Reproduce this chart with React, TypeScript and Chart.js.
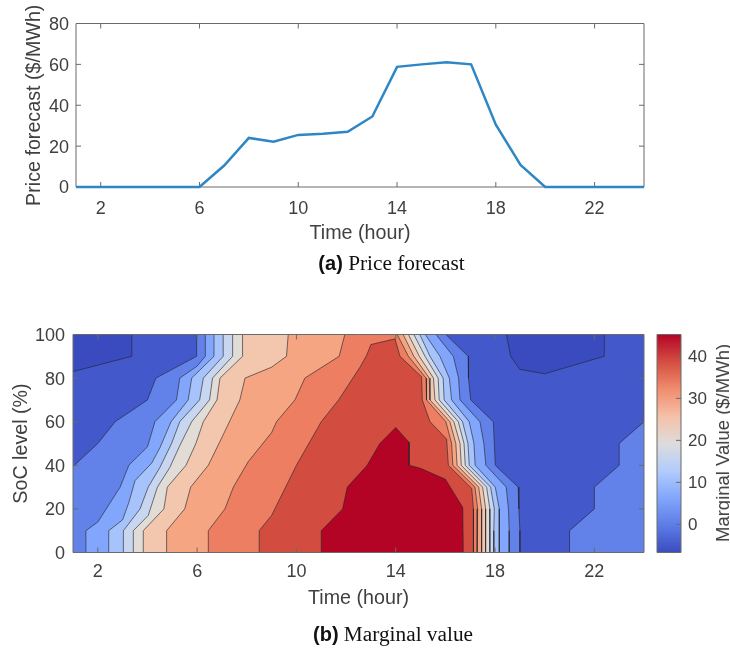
import React, { useEffect, useRef } from "react";
import { Chart, registerables } from "chart.js";

Chart.register(...registerables);

const hours = [1, 2, 3, 4, 5, 6, 7, 8, 9, 10, 11, 12, 13, 14, 15, 16, 17, 18, 19, 20, 21, 22, 23, 24];
const priceForecast = [0, 0, 0, 0, 0, 0, 10.5, 24, 22.2, 25.5, 26, 27, 34.5, 58.8, 60, 61, 60, 30.5, 10.8, 0, 0, 0, 0, 0];
const hourTicks = [2, 6, 10, 14, 18, 22];
const priceTicks = [0, 20, 40, 60, 80];
const socTicks = [0, 20, 40, 60, 80, 100];
const colorbarTicks = [0, 10, 20, 30, 40];
const colorbarRange = [-6.7, 45.2];

type P = [number, number];

// Contour boundaries: [hour, SoC %]
const lowTopLeft: P[] = [[1, 83], [3.37, 90], [3.37, 100]];
const lowTopRight: P[] = [[18.46, 100], [18.63, 90], [19, 84], [20, 82], [22.4, 90], [22.4, 100]];
const lowRightCorner: P[] = [[21, 0], [21, 10], [22, 20], [22, 30], [23, 40], [23, 50], [24, 60], [24, 70]];

const riseB: P[] = [[1, 39.4], [2, 50], [2.7, 60], [4, 70], [4.34, 80], [5.98, 90], [5.98, 100]];
const riseC: P[] = [[1.52, 0], [1.52, 10], [2, 14], [2.9, 30], [3.25, 40], [4, 48.5], [4.3, 60], [5.17, 70], [5.3, 80], [6, 85.5], [6.33, 90], [6.33, 100]];
const riseD: P[] = [[2.44, 0], [2.44, 10], [3, 15], [3.25, 23], [3.5, 33], [4.17, 41], [4.5, 48], [4.95, 60], [5.64, 70], [5.78, 80], [6.68, 90], [6.68, 100]];
const riseE: P[] = [[3.03, 0], [3.03, 10], [3.7, 20], [4.03, 30], [4.5, 39], [4.97, 50], [5.3, 60], [6.1, 70], [6.25, 80], [7.05, 90], [7.05, 100]];
const riseF: P[] = [[3.43, 0], [3.43, 10], [4.03, 17], [4.4, 30], [4.9, 39], [5.3, 49], [5.78, 60], [6.5, 70], [6.62, 80], [7.43, 90], [7.43, 100]];
const riseG: P[] = [[3.83, 0], [3.83, 10], [4.66, 20], [4.8, 30], [5.55, 40], [5.95, 50], [6.25, 60], [6.8, 70], [6.92, 80], [7.83, 90], [7.83, 100]];
const riseH: P[] = [[4.77, 0], [4.77, 10], [5.5, 20], [5.74, 30], [6.45, 40], [7.05, 54], [7.72, 70], [7.93, 80], [9, 85], [9.6, 90], [9.67, 100]];
const riseI: P[] = [[6.45, 0], [6.45, 10], [7.12, 20], [7.46, 30], [8.06, 41.7], [9, 55], [9.2, 60], [9.94, 70], [10.34, 80], [11.72, 90], [11.95, 100]];
const riseJ: P[] = [[8.5, 0], [8.5, 10], [9, 17], [10, 40], [11, 60], [11.7, 70], [12.56, 85], [12.83, 90.5], [13, 95.4], [13.97, 98]];

const fallB: P[] = [[16.02, 100], [16.92, 90], [16.93, 80], [17.02, 70], [17.93, 60], [17.97, 50], [18.01, 40], [18.93, 30], [18.96, 20], [19, 10], [19, 0]];
const fallC: P[] = [[15.62, 100], [16.32, 90], [16.53, 80], [16.59, 70], [17.39, 60], [17.55, 50], [17.63, 40], [18.45, 30], [18.54, 20], [18.57, 10], [18.57, 0]];
const fallD: P[] = [[15.19, 100], [15.78, 90], [16.16, 80], [16.25, 70], [16.96, 60], [17.15, 50], [17.2, 40], [18.01, 30], [18.17, 20], [18.17, 10], [18.17, 0]];
const fallE: P[] = [[14.97, 100], [15.38, 90], [15.91, 80], [15.95, 70], [16.69, 60], [16.91, 50], [16.96, 40], [17.82, 30], [17.97, 20], [17.95, 10], [17.95, 0]];
const fallF: P[] = [[14.73, 100], [15.18, 90], [15.71, 80], [15.75, 70], [16.52, 60], [16.75, 50], [16.8, 40], [17.66, 30], [17.79, 20], [17.79, 10], [17.79, 0]];
const fallG: P[] = [[14.51, 100], [14.95, 90], [15.52, 80], [15.58, 70], [16.34, 60], [16.59, 50], [16.64, 40], [17.5, 30], [17.62, 20], [17.62, 10], [17.62, 0]];
const fallH: P[] = [[14.3, 100], [14.73, 90], [15.35, 80], [15.38, 70], [16.18, 60], [16.42, 50], [16.47, 40], [17.34, 30], [17.46, 20], [17.46, 10], [17.46, 0]];
const fallI: P[] = [[14.06, 100], [14.51, 90], [15.22, 80], [15.24, 70], [16.02, 60], [16.25, 50], [16.3, 40], [17.19, 30], [17.3, 20], [17.28, 10], [17.28, 0]];
const fallJ: P[] = [[14.17, 90], [15.04, 80.6], [15.07, 70], [15.38, 60], [16.05, 52], [16.12, 40], [17.06, 29.4], [17.13, 20], [17.13, 10], [17.13, 0]];

const peakK: P[] = [[11, 0], [11, 10], [11.86, 20], [12.05, 30], [12.85, 40], [13.36, 50], [14, 57.3], [14.54, 50.5], [14.54, 40], [15, 38.6], [16, 33.6], [16.7, 20.6], [16.72, 0]];

const fullDomain: P[] = [[1, 0], [24, 0], [24, 100], [1, 100]];

const contourColors = {
  lowest: "#3a4bbf",
  base: "#4358cb",
  b: "#6282ea",
  c: "#82a6fb",
  d: "#a6c3fb",
  e: "#c8d7ef",
  f: "#e2dcd6",
  g: "#f3c6ae",
  h: "#f6a583",
  i: "#ed7e61",
  j: "#d24d3f",
  k: "#b40426",
};

const colorbarStops: [number, string][] = [
  [0, "#3b4cc0"], [0.125, "#5d7ce6"], [0.25, "#82a6fb"], [0.375, "#b2ccfb"], [0.5, "#dddcdc"],
  [0.625, "#f5c0a7"], [0.75, "#f08c6e"], [0.875, "#d44e41"], [1, "#b40426"],
];

const FONT = "'Liberation Sans', Arial, sans-serif";
const TEXT = "#404040";
const FRAME = "#6a6a6a";
const TICK_SIZE = 18;
const TITLE_SIZE = 19.7;

const toXY = (pts: P[]) => pts.map(([x, y]) => ({ x, y }));

const regionFill: any = {
  id: "regionFill",
  beforeDatasetDraw(chart: any, args: any) {
    const ds = chart.data.datasets[args.index];
    if (!ds.regionColor) return;
    const pts = args.meta.data;
    const ctx = chart.ctx;
    ctx.save();
    ctx.beginPath();
    pts.forEach((p: any, i: number) => (i ? ctx.lineTo(p.x, p.y) : ctx.moveTo(p.x, p.y)));
    ctx.closePath();
    ctx.fillStyle = ds.regionColor;
    ctx.fill();
    ctx.restore();
  },
};

function frame(under: boolean, showX = true, leftTicks = true): any {
  const draw = (chart: any) => {
    const { ctx, chartArea: a, scales } = chart;
    ctx.save();
    ctx.strokeStyle = FRAME;
    ctx.lineWidth = 1;
    ctx.beginPath();
    ctx.rect(a.left, a.top, a.right - a.left, a.bottom - a.top);
    if (showX) {
      scales.x.ticks.forEach((t: any) => {
        const px = scales.x.getPixelForValue(t.value);
        ctx.moveTo(px, a.bottom); ctx.lineTo(px, a.bottom - 5);
        ctx.moveTo(px, a.top); ctx.lineTo(px, a.top + 5);
      });
    }
    scales.y.ticks.forEach((t: any) => {
      const py = scales.y.getPixelForValue(t.value);
      if (leftTicks) { ctx.moveTo(a.left, py); ctx.lineTo(a.left + 5, py); }
      ctx.moveTo(a.right, py); ctx.lineTo(a.right - 5, py);
    });
    ctx.stroke();
    ctx.restore();
  };
  return under
    ? { id: "frame", beforeDatasetsDraw: draw }
    : { id: "frame", afterDatasetsDraw: draw };
}

const fixedTicks = (vals: number[]) => (scale: any) => {
  scale.ticks = vals.map((value) => ({ value }));
};

function axisX(height: number, tickPad: number): any {
  return {
    type: "linear",
    min: 1,
    max: 24,
    afterBuildTicks: fixedTicks(hourTicks),
    afterFit: (s: any) => { s.height = height; },
    grid: { display: false, drawTicks: false },
    border: { display: false },
    ticks: { color: TEXT, font: { family: FONT, size: TICK_SIZE }, padding: tickPad, maxRotation: 0, autoSkip: false },
    title: { display: true, text: "Time (hour)", color: TEXT, font: { family: FONT, size: TITLE_SIZE }, padding: { top: 0, bottom: 0 } },
  };
}

function axisY(vals: number[], max: number, width: number, title: string, pad: number, tickPad: number): any {
  return {
    type: "linear",
    min: 0,
    max,
    afterBuildTicks: fixedTicks(vals),
    afterFit: (s: any) => { s.width = width; },
    grid: { display: false, drawTicks: false },
    border: { display: false },
    ticks: { color: TEXT, font: { family: FONT, size: TICK_SIZE }, padding: tickPad, labelOffset: 1.5, autoSkip: false },
    title: { display: true, text: title, color: TEXT, font: { family: FONT, size: TITLE_SIZE }, padding: { top: pad, bottom: 0 } },
  };
}

function contourDatasets(): any[] {
  const fills: [P[], string][] = [
    [fullDomain, contourColors.base],
    [[[1, 100], ...lowTopLeft], contourColors.lowest],
    [lowTopRight, contourColors.lowest],
    [[[1, 0], ...riseB, ...fallB], contourColors.b],
    [[...lowRightCorner, [24, 0]], contourColors.b],
    [[...riseC, ...fallC], contourColors.c],
    [[...riseD, ...fallD], contourColors.d],
    [[...riseE, ...fallE], contourColors.e],
    [[...riseF, ...fallF], contourColors.f],
    [[...riseG, ...fallG], contourColors.g],
    [[...riseH, ...fallH], contourColors.h],
    [[...riseI, ...fallI], contourColors.i],
    [[...riseJ, ...fallJ], contourColors.j],
    [peakK, contourColors.k],
  ];
  const lines: P[][] = [
    lowTopLeft, lowTopRight, lowRightCorner,
    riseB, fallB, riseC, fallC, riseD, fallD, riseE, fallE, riseF, fallF,
    riseG, fallG, riseH, fallH, riseI, fallI, [...riseJ, ...fallJ], peakK,
  ];
  const out: any[] = [];
  fills.forEach(([pts, color], i) => {
    out.push({ data: toXY(pts), regionColor: color, showLine: false, pointRadius: 0, order: 1000 - i });
  });
  lines.forEach((pts, i) => {
    out.push({ data: toXY(pts), showLine: true, borderColor: "rgba(35,35,45,0.62)", borderWidth: 1, pointRadius: 0, tension: 0, fill: false, order: 100 - i });
  });
  return out;
}

export default function App() {
  const a = useRef<HTMLCanvasElement>(null);
  const b = useRef<HTMLCanvasElement>(null);
  const c = useRef<HTMLCanvasElement>(null);

  useEffect(() => {
    const common = { responsive: false, animation: false as const, devicePixelRatio: 1 };
    const noPlug = { legend: { display: false }, tooltip: { enabled: false } };

    const chartA = new Chart(a.current!, {
      type: "line",
      data: {
        datasets: [{
          data: hours.map((x, i) => ({ x, y: priceForecast[i] })),
          borderColor: "#2f86c5",
          borderWidth: 2.5,
          pointRadius: 0,
          tension: 0,
          clip: false,
        } as any],
      },
      options: {
        ...common,
        layout: { padding: { top: 23.5, right: 86, bottom: 405, left: 0 } },
        plugins: noPlug,
        scales: { x: axisX(58, 11), y: axisY(priceTicks, 80, 76, "Price forecast ($/MWh)", 23, 7) },
      },
      plugins: [frame(true)],
    });

    const chartB = new Chart(b.current!, {
      type: "scatter",
      data: { datasets: contourDatasets() },
      options: {
        ...common,
        layout: { padding: { top: 334.5, right: 86, bottom: 40, left: 0 } },
        plugins: noPlug,
        scales: { x: axisX(57.5, 8.5), y: axisY(socTicks, 100, 73, "SoC level (%)", 10, 8) },
      },
      plugins: [regionFill, frame(false)],
    });

    const chartC = new Chart(c.current!, {
      type: "bar",
      data: {
        labels: ["Marginal Value"],
        datasets: [{
          data: [colorbarRange] as any,
          barPercentage: 1,
          categoryPercentage: 1,
          borderSkipped: false,
          borderWidth: 0,
          backgroundColor: (ctx: any) => {
            const area = ctx.chart.chartArea;
            if (!area) return "#888";
            const g = ctx.chart.ctx.createLinearGradient(0, area.bottom, 0, area.top);
            colorbarStops.forEach(([o, col]) => g.addColorStop(o, col));
            return g;
          },
        }],
      },
      options: {
        ...common,
        layout: { padding: { top: 334.5, right: 0, bottom: 97.5, left: 657 } },
        plugins: noPlug,
        scales: {
          x: { display: false },
          y: {
            position: "right",
            min: colorbarRange[0],
            max: colorbarRange[1],
            afterBuildTicks: fixedTicks(colorbarTicks),
            afterFit: (s: any) => { s.width = 49; },
            grid: { display: false, drawTicks: false },
            border: { display: false },
            ticks: { color: TEXT, font: { family: FONT, size: 17 }, padding: 7, labelOffset: 1, autoSkip: false },
          } as any,
        },
      },
      plugins: [frame(false, false, false)],
    });

    return () => {
      chartA.destroy();
      chartB.destroy();
      chartC.destroy();
    };
  }, []);

  const cv: React.CSSProperties = { position: "absolute", left: 0, top: 0, display: "block" };
  const cap = (top: number, center: number): React.CSSProperties => ({
    position: "absolute", left: 0, width: center * 2, top, textAlign: "center", whiteSpace: "nowrap",
    fontFamily: "'Liberation Serif', serif", fontSize: 21.3, lineHeight: "24px", color: "#111",
  });
  const bold: React.CSSProperties = { fontFamily: FONT, fontWeight: 700, fontSize: 20 };

  return (
    <div style={{ position: "absolute", left: 0, top: 0, width: 730, height: 650, background: "#fff", overflow: "hidden" }}>
      <canvas ref={a} width={730} height={650} style={cv} />
      <canvas ref={b} width={730} height={650} style={cv} />
      <canvas ref={c} width={730} height={650} style={cv} />
      <div style={cap(251, 391.5)}><span style={bold}>(a)</span> Price forecast</div>
      <div style={cap(622, 393)}><span style={bold}>(b)</span> Marginal value</div>
      <div style={{
        position: "absolute", left: 723, top: 443, transform: "translate(-50%,-50%) rotate(-90deg)",
        whiteSpace: "nowrap", fontFamily: FONT, fontSize: 18.5, color: TEXT,
      }}>Marginal Value ($/MWh)</div>
    </div>
  );
}
